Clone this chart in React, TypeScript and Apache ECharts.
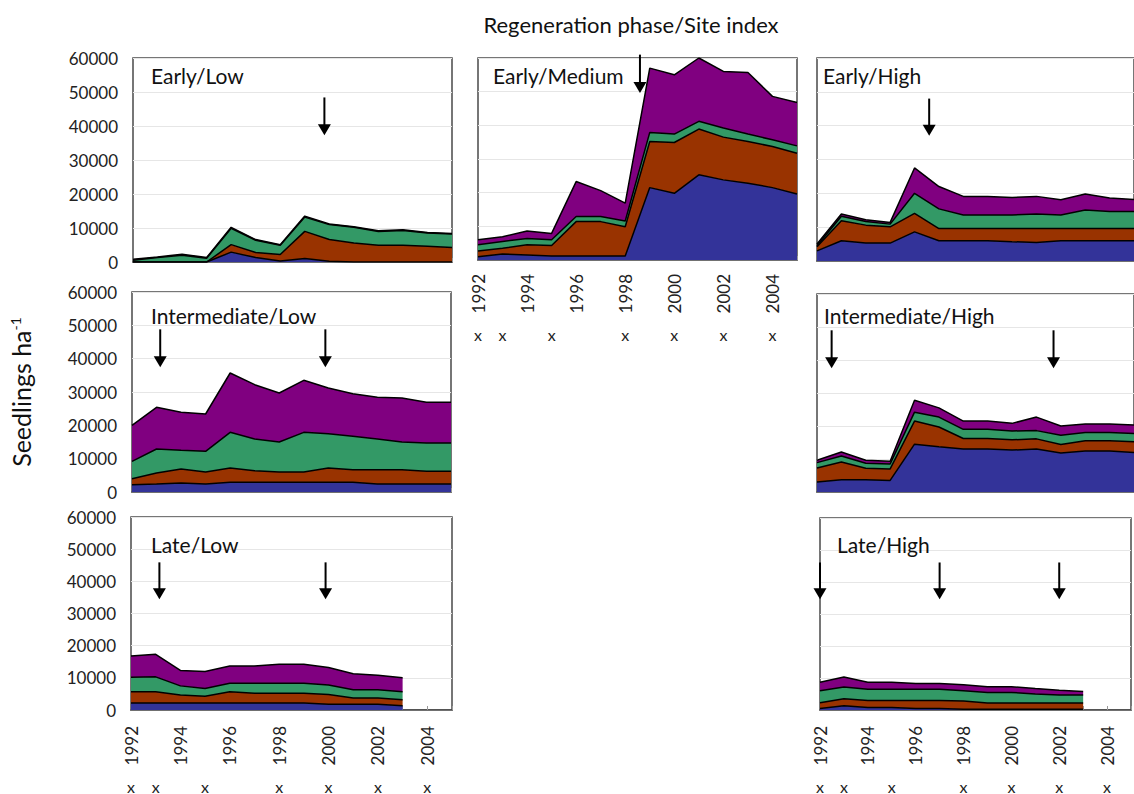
import React, { useEffect, useRef } from "react";
import * as echarts from "echarts";

const YEARS = ["1992", "1993", "1994", "1995", "1996", "1997", "1998", "1999", "2000", "2001", "2002", "2003", "2004", "2005"];
const X_MARK_YEARS = ["1992", "1993", "1995", "1998", "2000", "2002", "2004"];
const LAYER_NAMES = ["Layer 1", "Layer 2", "Layer 3", "Layer 4"];
const LAYER_COLORS = ["#333399", "#993300", "#339966", "#800080"];
const MAIN_TITLE = "Regeneration phase/Site index";
const Y_NAME = "Seedlings ha";

// Early / Low
const earlyLowBlue = [0, 0, 0, 0, 2900, 1300, 300, 1000, 200, 0, 0, 0, 0, 0];
const earlyLowBrown = [0, 0, 0, 0, 2200, 1500, 1900, 8000, 6400, 5600, 4900, 4900, 4600, 4300];
const earlyLowGreen = [500, 1300, 2000, 1100, 4800, 3600, 2700, 4200, 4400, 4600, 4100, 4400, 3900, 3900];
const earlyLowPurple = [300, 200, 300, 200, 300, 200, 200, 300, 200, 200, 200, 200, 200, 200];
const earlyLowArrows = [1999.8];

// Early / Medium
const earlyMedBlue = [1000, 1800, 1500, 1200, 1200, 1200, 1200, 21500, 19800, 25300, 23800, 22800, 21500, 19600];
const earlyMedBrown = [1700, 1700, 3000, 3100, 10200, 10200, 8700, 13700, 15100, 13600, 12700, 12400, 12200, 12100];
const earlyMedGreen = [1800, 2000, 1900, 1700, 1500, 1500, 1700, 2700, 2500, 2300, 2700, 2200, 2000, 2200];
const earlyMedPurple = [1500, 1400, 2200, 1900, 10400, 7700, 5300, 19100, 17600, 18800, 16800, 18300, 12900, 12900];
const earlyMedArrows = [1998.6];

// Early / High
const earlyHighBlue = [3000, 6000, 5300, 5300, 8600, 6000, 6000, 6000, 5700, 5500, 6000, 6000, 6000, 6000];
const earlyHighBrown = [1200, 5900, 5300, 4800, 5500, 3600, 3600, 3600, 3900, 4100, 3600, 3600, 3600, 3600];
const earlyHighGreen = [300, 1300, 1100, 800, 5900, 5800, 4000, 4000, 4000, 4300, 4000, 5500, 5000, 5000];
const earlyHighPurple = [500, 700, 500, 500, 7500, 6600, 5500, 5500, 5200, 5200, 4500, 4700, 4000, 3600];
const earlyHighArrows = [1996.6];

// Intermediate / Low
const interLowBlue = [2200, 2400, 2700, 2400, 2900, 2900, 2900, 2900, 2900, 2900, 2400, 2400, 2400, 2400];
const interLowBrown = [1800, 3300, 4200, 3600, 4300, 3500, 3100, 3100, 4300, 3800, 4300, 4300, 3800, 3800];
const interLowGreen = [5200, 7200, 5600, 6200, 10700, 9500, 9000, 11900, 10300, 10000, 9200, 8300, 8500, 8500];
const interLowPurple = [10800, 12500, 11400, 11200, 17800, 16300, 14700, 15600, 13700, 12800, 12500, 13200, 12200, 12200];
const interLowArrows = [1993.15, 1999.88];

// Intermediate / High
const interHighBlue = [3000, 3700, 3700, 3500, 14500, 13700, 13000, 13000, 12700, 13000, 11800, 12400, 12400, 12000];
const interHighBrown = [4300, 5400, 3500, 3500, 7000, 6000, 3200, 3200, 3100, 3100, 2600, 3100, 3100, 3200];
const interHighGreen = [1600, 1800, 1500, 1500, 2700, 3000, 2800, 2800, 2700, 2500, 2800, 2500, 2500, 2500];
const interHighPurple = [700, 1200, 900, 800, 3600, 2800, 2500, 2500, 2300, 4100, 2800, 2600, 2600, 2600];
const interHighArrows = [1992.6, 2001.7];

// Late / Low
const lateLowBlue = [2200, 2200, 2200, 2200, 2200, 2200, 2200, 2200, 1800, 1800, 1800, 1300, null, null];
const lateLowBrown = [3500, 3500, 2500, 2100, 3500, 3000, 3000, 3000, 3000, 1900, 1900, 1900, null, null];
const lateLowGreen = [4500, 4600, 2800, 2400, 2600, 3100, 3100, 3100, 3000, 2600, 2600, 2500, null, null];
const lateLowPurple = [6600, 7000, 4800, 5300, 5400, 5400, 5900, 5900, 5400, 5000, 4500, 4300, null, null];
const lateLowArrows = [1993.15, 1999.88];

// Late / High
const lateHighBlue = [500, 1300, 800, 800, 500, 500, 200, 200, 200, 200, 200, 200, null, null];
const lateHighBrown = [1800, 2200, 2200, 2200, 2500, 2500, 2600, 2000, 2000, 2000, 2000, 2000, null, null];
const lateHighGreen = [3700, 3700, 3500, 3500, 3500, 3500, 3200, 3300, 3300, 2800, 2500, 2500, null, null];
const lateHighPurple = [2700, 3100, 2200, 2200, 1800, 1800, 1900, 1800, 1800, 1700, 1500, 1100, null, null];
const lateHighArrows = [1992.0, 1997.0, 2002.0];

const FONT = "Lato, 'Open Sans', sans-serif";

type Panel = {
  title: string;
  layers: (number | null)[][];
  arrows: number[];
  grid: { left: number; top: number; width: number; height: number };
  titlePos: [number, number];
  showY: boolean;
  showX: boolean;
  xMarkOffset?: number;
  xLabelMargin?: number;
  arrowTop: number;
  arrowTip: number;
  yName?: boolean;
};

const PANELS: Panel[] = [
  {
    title: "Early/Low",
    layers: [earlyLowBlue, earlyLowBrown, earlyLowGreen, earlyLowPurple],
    arrows: earlyLowArrows,
    grid: { left: 133, top: 58, width: 319, height: 204 },
    titlePos: [151, 75],
    showY: true,
    showX: false,
    arrowTop: 48400,
    arrowTip: 37300,
  },
  {
    title: "Early/Medium",
    layers: [earlyMedBlue, earlyMedBrown, earlyMedGreen, earlyMedPurple],
    arrows: earlyMedArrows,
    grid: { left: 478, top: 58, width: 319, height: 202 },
    titlePos: [493, 75],
    showY: false,
    showX: true,
    xMarkOffset: 58,
    xLabelMargin: 14,
    arrowTop: 61000,
    arrowTip: 49600,
  },
  {
    title: "Early/High",
    layers: [earlyHighBlue, earlyHighBrown, earlyHighGreen, earlyHighPurple],
    arrows: earlyHighArrows,
    grid: { left: 817, top: 58, width: 319, height: 203 },
    titlePos: [823, 75],
    showY: false,
    showX: false,
    arrowTop: 48000,
    arrowTip: 37000,
  },
  {
    title: "Intermediate/Low",
    layers: [interLowBlue, interLowBrown, interLowGreen, interLowPurple],
    arrows: interLowArrows,
    grid: { left: 132, top: 292, width: 319, height: 200 },
    titlePos: [151, 315],
    showY: true,
    showX: false,
    arrowTop: 48800,
    arrowTip: 37400,
    yName: true,
  },
  {
    title: "Intermediate/High",
    layers: [interHighBlue, interHighBrown, interHighGreen, interHighPurple],
    arrows: interHighArrows,
    grid: { left: 817, top: 294, width: 319, height: 198 },
    titlePos: [824, 315],
    showY: false,
    showX: false,
    arrowTop: 49000,
    arrowTip: 37500,
  },
  {
    title: "Late/Low",
    layers: [lateLowBlue, lateLowBrown, lateLowGreen, lateLowPurple],
    arrows: lateLowArrows,
    grid: { left: 131, top: 517, width: 321, height: 200 },
    titlePos: [151, 544],
    showY: true,
    showX: true,
    xMarkOffset: 60,
    xLabelMargin: 16,
    arrowTop: 45900,
    arrowTip: 34500,
  },
  {
    title: "Late/High",
    layers: [lateHighBlue, lateHighBrown, lateHighGreen, lateHighPurple],
    arrows: lateHighArrows,
    grid: { left: 820, top: 518, width: 319, height: 199 },
    titlePos: [837, 544],
    showY: false,
    showX: true,
    xMarkOffset: 60,
    xLabelMargin: 16,
    arrowTop: 46100,
    arrowTip: 34700,
  },
];

function buildOption() {
  const grid: any[] = [];
  const xAxis: any[] = [];
  const yAxis: any[] = [];
  const series: any[] = [];
  const graphic: any[] = [];

  graphic.push({
    type: "text",
    x: 631,
    y: 24,
    style: { text: MAIN_TITLE, font: `22px ${FONT}`, fill: "#111", textAlign: "center", textVerticalAlign: "middle" },
  });

  PANELS.forEach((p, i) => {
    grid.push({
      ...p.grid,
      show: true,
      borderColor: "#4a4a4a",
      borderWidth: 1.5,
      backgroundColor: "#fff",
    });
    const catIdx = xAxis.length;
    xAxis.push({
      type: "category",
      gridIndex: i,
      data: YEARS,
      boundaryGap: false,
      axisLine: { show: true, lineStyle: { color: "#4a4a4a", width: 1.5 } },
      axisTick: { show: true, inside: true, length: 4, interval: 0, lineStyle: { color: "#999" } },
      axisLabel: {
        show: p.showX,
        rotate: 90,
        interval: 1,
        margin: p.xLabelMargin ?? 14,
        fontSize: 17,
        color: "#222",
        fontFamily: FONT,
      },
      splitLine: { show: false },
    });
    const valIdx = xAxis.length;
    xAxis.push({ type: "value", gridIndex: i, min: 1992, max: 2005, show: false });
    if (p.showX) {
      xAxis.push({
        type: "category",
        gridIndex: i,
        data: YEARS,
        boundaryGap: false,
        position: "bottom",
        offset: p.xMarkOffset,
        axisLine: { show: false },
        axisTick: { show: false },
        axisLabel: {
          interval: 0,
          fontSize: 16,
          color: "#222",
          fontFamily: FONT,
          formatter: (v: string) => (X_MARK_YEARS.includes(v) ? "x" : ""),
        },
      });
    }
    yAxis.push({
      type: "value",
      gridIndex: i,
      min: 0,
      max: 60000,
      interval: 10000,
      axisLine: { show: false },
      axisTick: { show: false },
      axisLabel: {
        show: p.showY,
        margin: 15,
        fontSize: 17,
        color: "#222",
        fontFamily: FONT,
        formatter: (v: number) => String(v),
      },
      splitLine: { show: true, lineStyle: { color: "#e6e6e6", width: 1 } },
      ...(p.yName
        ? {
            name: `{a|${Y_NAME}}{s|-1}`,
            nameLocation: "middle",
            nameRotate: 90,
            nameGap: 98,
            nameTextStyle: {
              rich: {
                a: { fontSize: 25, fontFamily: FONT, color: "#111" },
                s: { fontSize: 14, fontFamily: FONT, color: "#111", verticalAlign: "top", padding: [0, 0, 12, 0] },
              },
            },
          }
        : {}),
    });
    p.layers.forEach((layer, k) => {
      series.push({
        name: LAYER_NAMES[k],
        type: "line",
        xAxisIndex: catIdx,
        yAxisIndex: i,
        stack: "p" + i,
        data: layer,
        symbol: "none",
        connectNulls: false,
        lineStyle: { color: "#000", width: 1.5 },
        areaStyle: { color: LAYER_COLORS[k], opacity: 1 },
        z: 2,
      });
    });
    const headH = 11;
    const center = p.arrowTip + ((headH / 2) * 60000) / p.grid.height;
    p.arrows.forEach((x) => {
      series.push({
        type: "line",
        xAxisIndex: valIdx,
        yAxisIndex: i,
        data: [
          { value: [x, p.arrowTop], symbol: "none" },
          { value: [x, center] },
        ],
        symbol: "triangle",
        symbolSize: [13, headH],
        symbolRotate: 180,
        showSymbol: true,
        clip: false,
        silent: true,
        lineStyle: { color: "#000", width: 2 },
        itemStyle: { color: "#000" },
        z: 10,
      });
    });
    graphic.push({
      type: "text",
      x: p.titlePos[0],
      y: p.titlePos[1],
      z: 20,
      style: { text: p.title, font: `21px ${FONT}`, fill: "#111", textAlign: "left", textVerticalAlign: "middle" },
    });
  });

  return { animation: false, backgroundColor: "#fff", grid, xAxis, yAxis, series, graphic };
}

export default function App() {
  const ref = useRef<HTMLDivElement>(null);
  useEffect(() => {
    if (!ref.current) return;
    const chart = echarts.init(ref.current, undefined, { renderer: "svg" });
    chart.setOption(buildOption() as any);
    return () => chart.dispose();
  }, []);
  return <div ref={ref} style={{ position: "absolute", left: 0, top: 0, width: 1134, height: 794 }} />;
}
